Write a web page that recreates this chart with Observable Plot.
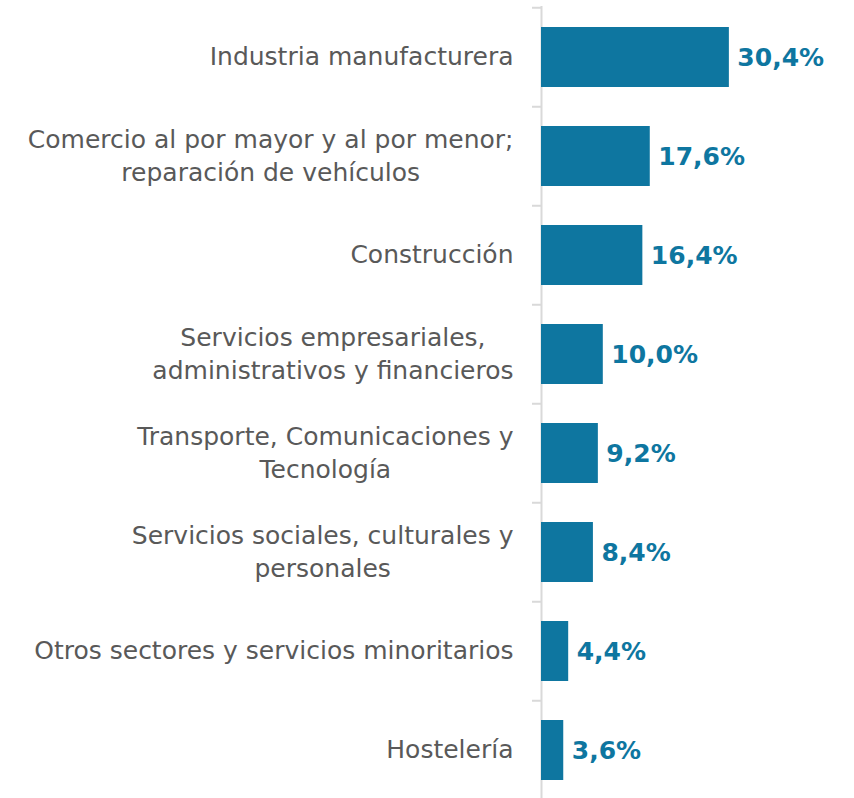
<!DOCTYPE html>
<html>
<head>
<meta charset="utf-8">
<script src="https://cdn.jsdelivr.net/npm/d3@7"></script>
<script src="https://cdn.jsdelivr.net/npm/@observablehq/plot@0.6"></script>
<style>
  html, body { margin: 0; padding: 0; background: #ffffff; }
  #chart svg { display: block; }
</style>
</head>
<body>
<div id="chart"></div>
<script>
const categories = [
  "Industria manufacturera",
  "Comercio al por mayor y al por menor;\nreparación de vehículos",
  "Construcción",
  "Servicios empresariales,\nadministrativos y financieros",
  "Transporte, Comunicaciones y\nTecnología",
  "Servicios sociales, culturales y\npersonales",
  "Otros sectores y servicios minoritarios",
  "Hostelería"
];
const values = [30.4, 17.6, 16.4, 10.0, 9.2, 8.4, 4.4, 3.6];

const data = categories.map((c, i) => ({category: c, value: values[i]}));
const fmt = v => v.toFixed(1).replace(".", ",") + "%";

const labelFont = "DejaVu Sans";
const labelSize = 25;
const barColor = "#0e76a0";

const canvas = document.createElement("canvas");
const ctx = canvas.getContext("2d");
ctx.font = `${labelSize}px "${labelFont}"`;
const blockWidth = s => Math.max(...s.split("\n").map(l => ctx.measureText(l).width));

const W = 854, H = 798;
const yTop = 6, yBottom = 802;
const step = (yBottom - yTop) / categories.length;

const labelMarks = data.map(d =>
  Plot.text([d], {
    x: 0, y: "category", text: "category",
    textAnchor: "middle", lineAnchor: "middle",
    dx: -28 - blockWidth(d.category) / 2, dy: -3,
    fill: "#595959", fontSize: labelSize, fontFamily: labelFont,
    lineHeight: 1.32
  })
);

const chart = Plot.plot({
  width: W, height: H,
  marginLeft: 541, marginRight: 4, marginTop: yTop, marginBottom: 0,
  x: {domain: [0, 50], axis: null},
  y: {domain: categories, range: [yTop, yBottom], paddingInner: 0.39, paddingOuter: 0.195, axis: null},
  style: {fontFamily: labelFont, background: "#ffffff"},
  marks: [
    Plot.ruleX([0], {stroke: "#d9d9d9", strokeWidth: 2}),
    Plot.ruleY(categories, {y: d => d, x1: 0, x2: 0, insetLeft: -9, dy: -step / 2, stroke: "#d9d9d9", strokeWidth: 2}),
    Plot.barX(data, {x: "value", y: "category", fill: barColor}),
    Plot.text(data, {x: "value", y: "category", text: d => fmt(d.value), textAnchor: "start", dx: 8, dy: 0,
      fill: barColor, fontWeight: "bold", fontSize: 25, fontFamily: labelFont}),
    ...labelMarks
  ]
});
document.getElementById("chart").appendChild(chart);
</script>
</body>
</html>
